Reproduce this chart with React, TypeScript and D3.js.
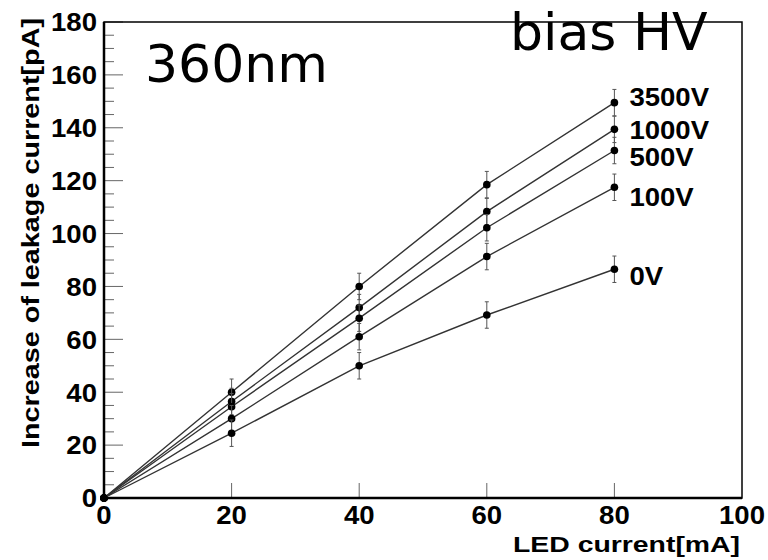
import React from "react";
import * as d3 from "d3";

// LED current (x) and leakage current increase (y) per bias voltage
const ledCurrent = [0, 20, 40, 60, 80];
const biasLabels = ["3500V", "1000V", "500V", "100V", "0V"];
const leak3500 = [0, 40, 80, 118.5, 149.5];
const leak1000 = [0, 36.5, 72, 108.3, 139.4];
const leak500 = [0, 34.5, 68, 102.2, 131.4];
const leak100 = [0, 30, 61, 91.3, 117.5];
const leak0 = [0, 24.5, 50, 69.2, 86.5];
const leakError = [0, 5, 5, 5, 5];
// where each bias label sits (data units, baseline)
const labelAt = [148.3, 135.8, 125.6, 110.4, 80.6];

const width = 768;
const height = 560;
const margin = { top: 22, right: 26, bottom: 62, left: 104 };
const stretch = 1.06;
const boldFont = "'Liberation Sans', Arial, Helvetica, sans-serif";
const plainFont = "'DejaVu Sans', Verdana, sans-serif";

const Label = ({ x, y, anchor = "start", size = 26, children }) => (
  <text
    transform={`translate(${x},${y}) scale(${stretch},1)`}
    textAnchor={anchor}
    fontFamily={boldFont}
    fontWeight="bold"
    fontSize={size}
    fill="#000"
  >
    {children}
  </text>
);

export default function App() {
  const innerW = width - margin.left - margin.right;
  const innerH = height - margin.top - margin.bottom;
  const x = d3.scaleLinear().domain([0, 100]).range([margin.left, margin.left + innerW]);
  const y = d3.scaleLinear().domain([0, 180]).range([margin.top + innerH, margin.top]);

  const series = [leak3500, leak1000, leak500, leak100, leak0];
  const line = d3
    .line<number>()
    .x((_, i) => x(ledCurrent[i]))
    .y(d => y(d));

  const xTicks = x.ticks(5);
  const yTicks = y.ticks(10);
  const yMinor = y.ticks(36).filter(v => v % 20 !== 0);
  const x0 = x(0);
  const y0 = y(0);

  return (
    <svg
      width={width}
      height={height}
      style={{ position: "absolute", left: 0, top: 0, background: "#fff" }}
    >
      {/* ticks */}
      {xTicks
        .filter(v => v > 0 && v < 100)
        .map(v => (
          <line key={"xt" + v} x1={x(v)} x2={x(v)} y1={y0} y2={y0 - 15} stroke="#666" strokeWidth={1} />
        ))}
      {yTicks.map(v => (
        <line key={"yt" + v} x1={x0} x2={x0 + 19} y1={y(v)} y2={y(v)} stroke="#666" strokeWidth={1} />
      ))}
      {yMinor.map(v => (
        <line key={"ym" + v} x1={x0} x2={x0 + 10} y1={y(v)} y2={y(v)} stroke="#666" strokeWidth={1} />
      ))}

      {/* frame */}
      <rect x={x0} y={y(180)} width={innerW} height={innerH} fill="none" stroke="#000" strokeWidth={1.5} />
      <line x1={x0} x2={x0} y1={y(180)} y2={y0} stroke="#000" strokeWidth={2.5} />
      <line x1={x0} x2={x(100)} y1={y0} y2={y0} stroke="#000" strokeWidth={2.5} />

      {/* lines, error bars, markers */}
      {series.map((s, si) => (
        <g key={"s" + si}>
          <path d={line(s) || ""} fill="none" stroke="#333" strokeWidth={1.4} />
          {s.map((v, i) =>
            leakError[i] > 0 ? (
              <g key={"e" + i} stroke="#555" strokeWidth={1}>
                <line x1={x(ledCurrent[i])} x2={x(ledCurrent[i])} y1={y(v - leakError[i])} y2={y(v + leakError[i])} />
                <line x1={x(ledCurrent[i]) - 2} x2={x(ledCurrent[i]) + 2} y1={y(v + leakError[i])} y2={y(v + leakError[i])} />
                <line x1={x(ledCurrent[i]) - 2} x2={x(ledCurrent[i]) + 2} y1={y(v - leakError[i])} y2={y(v - leakError[i])} />
              </g>
            ) : null
          )}
          {s.map((v, i) => (
            <circle key={"c" + i} cx={x(ledCurrent[i])} cy={y(v)} r={3.8} fill="#000" />
          ))}
        </g>
      ))}

      {/* bias labels */}
      {biasLabels.map((b, i) => (
        <Label key={b} x={x(80) + 15} y={y(labelAt[i])}>
          {b}
        </Label>
      ))}

      {/* tick labels */}
      {xTicks.map(v => (
        <Label key={"xl" + v} x={x(v)} y={y0 + 26} anchor="middle">
          {v}
        </Label>
      ))}
      {yTicks.map(v => (
        <Label key={"yl" + v} x={x0 - 7} y={y(v) + 9.3} anchor="end">
          {v}
        </Label>
      ))}

      {/* axis titles */}
      <text
        x={740}
        y={552}
        textAnchor="end"
        fontFamily={boldFont}
        fontWeight="bold"
        fontSize={22}
        textLength={227}
        lengthAdjust="spacingAndGlyphs"
      >
        LED current[mA]
      </text>
      <text
        transform={`translate(39,18) rotate(-90)`}
        textAnchor="end"
        fontFamily={boldFont}
        fontWeight="bold"
        fontSize={24}
        textLength={430}
        lengthAdjust="spacingAndGlyphs"
      >
        Increase of leakage current[pA]
      </text>

      {/* annotations */}
      <text x={145} y={82} fontFamily={plainFont} fontSize={52} fill="#000">
        360nm
      </text>
      <text x={510} y={50} fontFamily={plainFont} fontSize={52} fill="#000">
        bias HV
      </text>
    </svg>
  );
}
